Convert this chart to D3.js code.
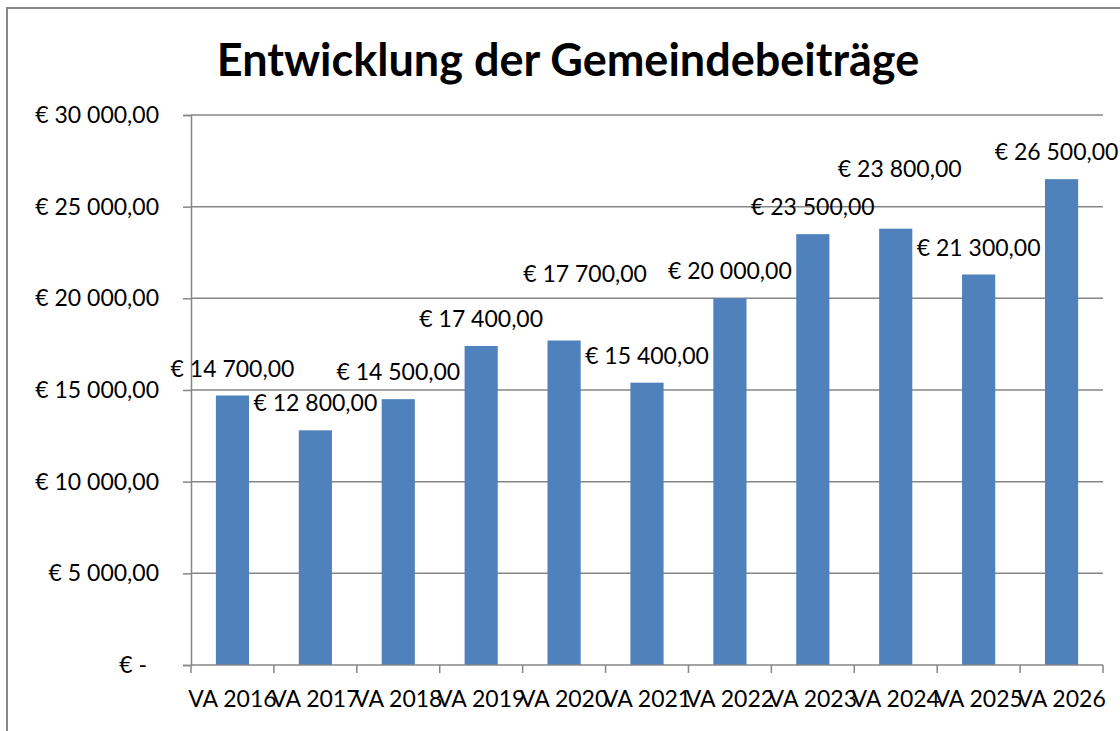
<!DOCTYPE html>
<html lang="de">
<head>
<meta charset="UTF-8">
<title>Entwicklung der Gemeindebeiträge</title>
<script src="https://d3js.org/d3.v7.min.js"></script>
<style>
  body { margin: 0; background: #fff; }
  text { font-family: Lato, "Liberation Sans", sans-serif; fill: #000; }
</style>
</head>
<body>
<div id="chart"></div>
<script>
// data
var categories = ["VA 2016", "VA 2017", "VA 2018", "VA 2019", "VA 2020", "VA 2021",
                  "VA 2022", "VA 2023", "VA 2024", "VA 2025", "VA 2026"];
var values = [14700, 12800, 14500, 17400, 17700, 15400, 20000, 23500, 23800, 21300, 26500];
var yTicks = [0, 5000, 10000, 15000, 20000, 25000, 30000];

// a few data labels were dragged by hand in the original chart
var labelNudgeX = [0, 0, 0, 0, 21, 0, 0, 0, 4, 0, -5];
var labelNudgeY = [0, 0, 0, 0, -40, 0, 0, 0, -33, 0, 0];

var width = 1120, height = 731;
var margin = { top: 115, right: 17, bottom: 66, left: 191 };

var svg = d3.select("#chart").append("svg")
    .attr("width", width)
    .attr("height", height);

// outer chart frame
svg.append("rect")
    .attr("x", 7).attr("y", 8)
    .attr("width", width + 20).attr("height", height + 20)
    .attr("fill", "none")
    .attr("stroke", "#878787")
    .attr("stroke-width", 2);

svg.append("text")
    .attr("x", 568).attr("y", 76)
    .attr("text-anchor", "middle")
    .style("font-size", "45px")
    .style("font-weight", "bold")
    .text("Entwicklung der Gemeindebeiträge");

var x = d3.scaleBand()
    .domain(categories)
    .range([margin.left, width - margin.right])
    .paddingInner(0.6)
    .paddingOuter(0.3);

var y = d3.scaleLinear()
    .domain([0, 30000])
    .range([height - margin.bottom, margin.top]);

var euro = function(v) {
    if (v === 0) return "€ -";
    return "€ " + d3.format(",.2f")(v).replace(/,/g, " ").replace(".", ",");
};

// gridlines
svg.append("g").selectAll("line")
    .data(yTicks.filter(function(d) { return d > 0; }))
    .join("line")
    .attr("x1", margin.left).attr("x2", width - margin.right)
    .attr("y1", function(d) { return y(d); })
    .attr("y2", function(d) { return y(d); })
    .attr("stroke", "#868686")
    .attr("stroke-width", 1.5);

// y axis
var yAxis = svg.append("g")
    .attr("transform", "translate(" + margin.left + ",0)")
    .call(d3.axisLeft(y).tickValues(yTicks).tickSize(8).tickPadding(24).tickFormat(euro));
yAxis.select(".domain").attr("stroke", "#868686").attr("stroke-width", 1.5);
yAxis.selectAll(".tick line").attr("stroke", "#868686").attr("stroke-width", 1.5);
yAxis.selectAll(".tick text")
    .style("font-size", "23px")
    .attr("dx", function(d) { return d === 0 ? -12 : 0; });

// bars
svg.append("g").selectAll("rect")
    .data(values)
    .join("rect")
    .attr("x", function(d, i) { return x(categories[i]); })
    .attr("y", function(d) { return y(d); })
    .attr("width", x.bandwidth())
    .attr("height", function(d) { return y(0) - y(d); })
    .attr("fill", "#4F81BD");

// x axis with ticks at category boundaries
var xAxisG = svg.append("g")
    .attr("transform", "translate(0," + y(0) + ")");
xAxisG.append("line")
    .attr("x1", margin.left).attr("x2", width - margin.right)
    .attr("stroke", "#868686").attr("stroke-width", 1.5);
var step = x.step();
xAxisG.selectAll(".sep")
    .data(d3.range(categories.length + 1))
    .join("line")
    .attr("class", "sep")
    .attr("x1", function(i) { return margin.left + i * step; })
    .attr("x2", function(i) { return margin.left + i * step; })
    .attr("y1", 0).attr("y2", 8)
    .attr("stroke", "#868686").attr("stroke-width", 1.5);
xAxisG.selectAll(".lbl")
    .data(categories)
    .join("text")
    .attr("class", "lbl")
    .attr("x", function(d) { return x(d) + x.bandwidth() / 2; })
    .attr("y", 42)
    .attr("text-anchor", "middle")
    .style("font-size", "23px")
    .text(function(d) { return d; });

// data labels
svg.append("g").selectAll("text")
    .data(values)
    .join("text")
    .attr("x", function(d, i) { return x(categories[i]) + x.bandwidth() / 2 + labelNudgeX[i]; })
    .attr("y", function(d, i) { return y(d) - 19 + labelNudgeY[i]; })
    .attr("text-anchor", "middle")
    .style("font-size", "23px")
    .text(euro);
</script>
</body>
</html>
